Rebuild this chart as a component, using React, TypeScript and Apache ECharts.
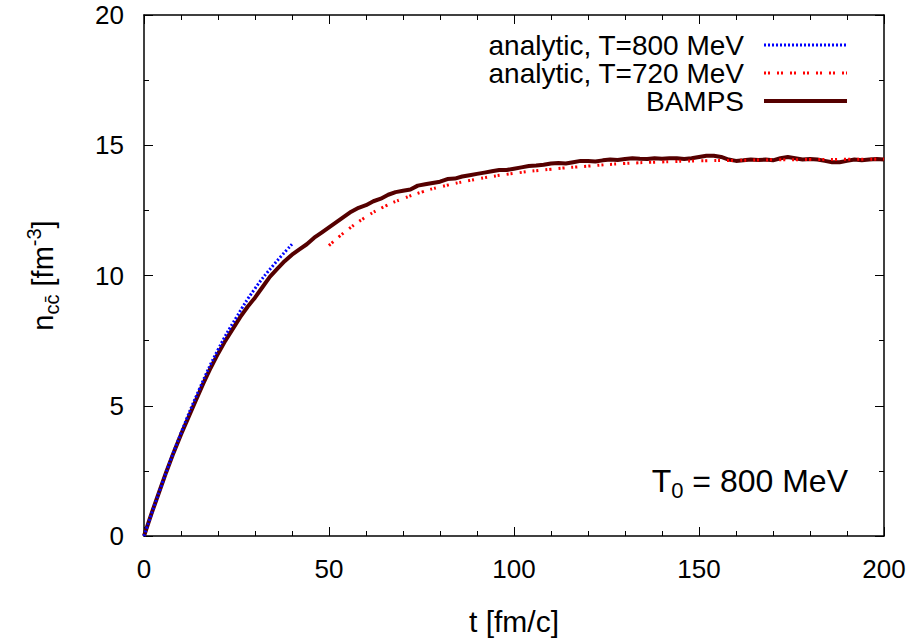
import React, { useEffect, useRef } from "react";
import * as echarts from "echarts";

const bampsT = [0,2,4,6,8,10,12,14,16,18,20,22,24,26,28,30,32,34,36,38,40,42,44,46,48,50,52,54,56,58,60,62,64,66,68,70,72,74,76,78,80,82,84,86,88,90,92,94,96,98,100,102,104,106,108,110,112,114,116,118,120,122,124,126,128,130,132,134,136,138,140,142,144,146,148,150,152,154,156,158,160,162,164,166,168,170,172,174,176,178,180,182,184,186,188,190,192,194,196,198,200];
const bampsN = [0,0.85,1.65,2.45,3.2,3.9,4.55,5.2,5.85,6.45,7.0,7.5,7.95,8.4,8.8,9.15,9.55,9.95,10.25,10.55,10.8,11.0,11.2,11.45,11.65,11.85,12.05,12.25,12.45,12.6,12.7,12.85,12.95,13.1,13.2,13.25,13.3,13.45,13.5,13.55,13.6,13.7,13.72,13.8,13.85,13.9,13.95,14.0,14.05,14.05,14.1,14.15,14.2,14.22,14.25,14.3,14.32,14.3,14.35,14.4,14.4,14.38,14.42,14.45,14.43,14.47,14.5,14.48,14.47,14.5,14.48,14.5,14.5,14.47,14.5,14.55,14.6,14.6,14.55,14.45,14.4,14.42,14.45,14.43,14.45,14.42,14.5,14.55,14.5,14.45,14.47,14.45,14.4,14.35,14.35,14.4,14.45,14.42,14.45,14.47,14.45];

const a800T = [0,5,10,15,20,25,30,35,40];
const a800N = [0,2.05,3.95,5.65,7.15,8.4,9.5,10.4,11.2];

const a720T = [50,55,60,65,70,75,80,90,100,110,120,130,140,150,160,170,180,190,200];
const a720N = [11.15,11.75,12.25,12.65,12.95,13.2,13.4,13.7,13.92,14.08,14.2,14.3,14.36,14.4,14.42,14.44,14.45,14.46,14.47];

const xTicks = { min: 0, max: 200, interval: 50 };
const yTicks = { min: 0, max: 20, interval: 5 };

const zip = (a: number[], b: number[]) => a.map((v, i) => [v, b[i]]);

const FONT = "Liberation Sans, Arial, sans-serif";

export default function App() {
  const ref = useRef<HTMLDivElement>(null);
  useEffect(() => {
    if (!ref.current) return;
    const chart = echarts.init(ref.current, undefined, { renderer: "svg" });
    const axisLine = { show: true, onZero: false, lineStyle: { color: "#000", width: 1.5 } };
    const tick = { show: true, inside: true, length: 9, lineStyle: { color: "#000", width: 1 } };
    const minor = (n: number) => ({ show: true, splitNumber: n, length: 5, lineStyle: { color: "#000", width: 1 } });
    const blue = { color: "#0000ff", width: 3, type: [2, 2] };
    const red = { color: "#ff0000", width: 3, type: [2, 2, 2, 7] };
    const maroon = { color: "#550000", width: 4 };
    chart.setOption({
      animation: false,
      backgroundColor: "#fff",
      textStyle: { fontFamily: FONT },
      grid: { left: 144, right: 36, top: 15, bottom: 103, containLabel: false },
      legend: {
        orient: "vertical",
        right: 66,
        top: 26,
        align: "right",
        itemWidth: 83,
        itemHeight: 14,
        itemGap: 0,
        itemStyle: { opacity: 0 },
        textStyle: { fontFamily: FONT, fontSize: 28, color: "#000", lineHeight: 28, padding: [0, 15, 0, 0] },
        data: [
          { name: "analytic, T=800 MeV", lineStyle: blue },
          { name: "analytic, T=720 MeV", lineStyle: red },
          { name: "BAMPS", lineStyle: maroon },
        ],
      },
      xAxis: [
        {
          type: "value", position: "bottom", ...xTicks,
          axisLine, axisTick: tick, minorTick: minor(5), splitLine: { show: false },
          axisLabel: { fontSize: 26, color: "#000", margin: 20, fontFamily: FONT },
          name: "t [fm/c]", nameLocation: "middle", nameGap: 70,
          nameTextStyle: { fontSize: 30, color: "#000", fontFamily: FONT },
        },
        {
          type: "value", position: "top", ...xTicks,
          axisLine, axisTick: tick, minorTick: minor(5), splitLine: { show: false },
          axisLabel: { show: false },
        },
      ],
      yAxis: [
        {
          type: "value", position: "left", ...yTicks,
          axisLine, axisTick: tick, minorTick: minor(2), splitLine: { show: false },
          axisLabel: { fontSize: 26, color: "#000", margin: 20, fontFamily: FONT },
          name: "{n|n}{sub|cc\u0304}{n| [fm}{sup|-3}{n|]}",
          nameLocation: "middle", nameGap: 82, nameRotate: 90,
          nameTextStyle: {
            color: "#000", fontFamily: FONT, fontSize: 29,
            rich: {
              n: { fontSize: 29, lineHeight: 38, verticalAlign: "middle", color: "#000", fontFamily: FONT },
              sub: { fontSize: 20, lineHeight: 19, verticalAlign: "bottom", color: "#000", fontFamily: FONT },
              sup: { fontSize: 20, lineHeight: 19, verticalAlign: "top", color: "#000", fontFamily: FONT },
            },
          },
        },
        {
          type: "value", position: "right", ...yTicks,
          axisLine, axisTick: tick, minorTick: minor(2), splitLine: { show: false },
          axisLabel: { show: false },
        },
      ],
      graphic: [
        {
          type: "text",
          right: 72,
          top: 465,
          style: {
            text: "{n|T}{sub|0}{n| = 800 MeV}",
            fontFamily: FONT,
            rich: {
              n: { fontSize: 32, lineHeight: 40, verticalAlign: "middle", fill: "#000", fontFamily: FONT },
              sub: { fontSize: 22, lineHeight: 22, verticalAlign: "bottom", fill: "#000", fontFamily: FONT },
            },
          },
        },
      ],
      series: [
        {
          name: "analytic, T=800 MeV", type: "line", showSymbol: false, symbol: "none",
          data: zip(a800T, a800N), smooth: true,
          lineStyle: blue, itemStyle: { color: "#0000ff" }, z: 3,
        },
        {
          name: "analytic, T=720 MeV", type: "line", showSymbol: false, symbol: "none",
          data: zip(a720T, a720N), smooth: true,
          lineStyle: red, itemStyle: { color: "#ff0000" }, z: 3,
        },
        {
          name: "BAMPS", type: "line", showSymbol: false, symbol: "none",
          data: zip(bampsT, bampsN),
          lineStyle: maroon, itemStyle: { color: "#550000" }, z: 2,
        },
      ],
    });
    return () => chart.dispose();
  }, []);
  return <div ref={ref} style={{ width: 920, height: 641, position: "absolute", left: 0, top: 0 }} />;
}
